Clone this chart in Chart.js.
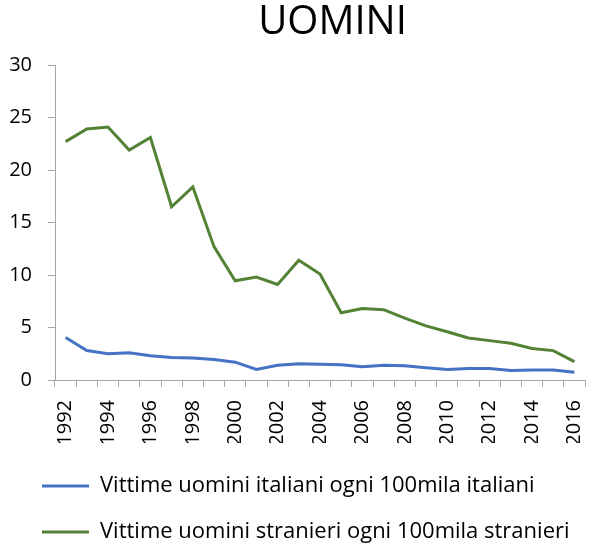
<!DOCTYPE html>
<html>
<head>
<meta charset="utf-8">
<script src="https://cdn.jsdelivr.net/npm/chart.js@4/dist/chart.umd.min.js"></script>
<style>
  html,body{margin:0;padding:0;background:#fff;overflow:hidden}
  #wrap{width:590px;height:545px}
</style>
</head>
<body>
<div id="wrap"><canvas id="chart" width="590" height="545"></canvas></div>
<script>
const years=['1992','1993','1994','1995','1996','1997','1998','1999','2000','2001','2002','2003','2004','2005','2006','2007','2008','2009','2010','2011','2012','2013','2014','2015','2016'];
const italiani=[4.05,2.8,2.5,2.6,2.3,2.15,2.1,1.95,1.7,1.0,1.4,1.55,1.5,1.45,1.27,1.4,1.35,1.17,1.0,1.1,1.1,0.9,0.95,0.95,0.73];
const stranieri=[22.7,23.9,24.1,21.9,23.1,16.5,18.4,12.7,9.45,9.8,9.1,11.4,10.1,6.4,6.8,6.7,5.9,5.15,4.6,4.0,3.75,3.5,3.0,2.8,1.75];
const seriesLabels=['Vittime uomini italiani ogni 100mila italiani','Vittime uomini stranieri ogni 100mila stranieri'];

const FONT='"Open Sans", sans-serif';
const AXIS_GREY='#a6a6a6';

// nudge title and legend to where the original puts them
const blockShift={
  id:'blockShift',
  afterLayout(chart){
    const tb=chart.titleBlock;
    if(tb){tb.left+=40;tb.right+=40;}
    const lg=chart.legend;
    if(lg){lg.left=18;lg.top+=8;lg.bottom+=8;}
  }
};

new Chart(document.getElementById('chart'),{
  type:'line',
  data:{
    labels:years,
    datasets:[
      {label:seriesLabels[0],data:italiani,borderColor:'#4472c4',backgroundColor:'#4472c4',borderWidth:3,pointRadius:0,tension:0},
      {label:seriesLabels[1],data:stranieri,borderColor:'#548235',backgroundColor:'#548235',borderWidth:3,pointRadius:0,tension:0}
    ]
  },
  options:{
    responsive:false,
    animation:false,
    events:[],
    layout:{padding:{left:0,right:5,top:0,bottom:0}},
    plugins:{
      title:{display:true,text:'UOMINI',color:'#000',font:{family:FONT,size:40,weight:'normal',lineHeight:1.05},padding:{top:2,bottom:21}},
      legend:{
        display:true,
        position:'bottom',
        align:'start',
        labels:{
          color:'#000',
          font:{family:FONT,size:22},
          usePointStyle:true,
          pointStyle:'line',
          pointStyleWidth:47,
          boxWidth:47,
          padding:24
        }
      },
      tooltip:{enabled:false}
    },
    scales:{
      x:{
        offset:true,
        afterFit(scale){scale.height=63;scale.paddingLeft=0;scale.paddingRight=0;},
        grid:{display:true,offset:true,drawOnChartArea:false,drawTicks:true,tickLength:7,color:AXIS_GREY},
        border:{color:AXIS_GREY},
        ticks:{
          autoSkip:false,
          minRotation:90,
          maxRotation:90,
          padding:13,
          color:'#000',
          font:{family:FONT,size:20},
          callback:(v,i)=>i%2===0?years[i]:''
        }
      },
      y:{
        min:0,
        max:30,
        afterFit(scale){scale.width=55;},
        grid:{display:true,drawOnChartArea:false,drawTicks:true,tickLength:7,color:AXIS_GREY},
        border:{color:AXIS_GREY},
        ticks:{stepSize:5,padding:16,color:'#000',font:{family:FONT,size:20}}
      }
    }
  },
  plugins:[blockShift]
});
</script>
</body>
</html>
